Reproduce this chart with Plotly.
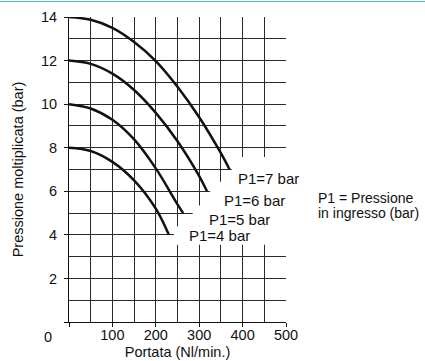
import plotly.graph_objects as go

# Flow rate (Nl/min) vs. multiplied pressure (bar) for each inlet pressure P1
flow_p7 = [0, 50, 100, 150, 200, 250, 300, 350, 370]
pres_p7 = [14, 13.87, 13.5, 12.85, 11.98, 10.8, 9.4, 7.75, 7.0]

flow_p6 = [0, 50, 100, 150, 200, 250, 300, 318]
pres_p6 = [12, 11.85, 11.4, 10.65, 9.6, 8.3, 6.7, 6.0]

flow_p5 = [0, 50, 100, 150, 200, 250, 263]
pres_p5 = [10, 9.8, 9.28, 8.38, 7.05, 5.4, 5.0]

flow_p4 = [0, 50, 100, 150, 200, 230]
pres_p4 = [8, 7.85, 7.35, 6.5, 5.2, 4.0]

curve_labels = ["P1=7 bar", "P1=6 bar", "P1=5 bar", "P1=4 bar"]

x_ticks = [0, 100, 200, 300, 400, 500]
x_ticktext = ["", "100", "200", "300", "400", "500"]
y_ticks = [0, 2, 4, 6, 8, 10, 12, 14]
y_ticktext = ["", "2", "4", "6", "8", "10", "12", "14"]

W, H = 425, 361
ML, MR, MT, MB = 69, 139, 17, 39
PW, PH = W - ML - MR, H - MT - MB

FONT = "Liberation Sans, Arial, Helvetica, sans-serif"
INK = "#111111"
GRID = "#2a2a2a"


def px_x(px):
    """Horizontal pixel position -> paper coordinate."""
    return (px - ML) / PW


def px_y(py):
    """Vertical pixel position (from top) -> paper coordinate."""
    return (H - MB - py) / PH


fig = go.Figure()
series = [(flow_p7, pres_p7), (flow_p6, pres_p6), (flow_p5, pres_p5), (flow_p4, pres_p4)]
for (fx, py), name in zip(series, curve_labels):
    fig.add_trace(go.Scatter(
        x=fx, y=py, mode="lines", name=name,
        line=dict(color=INK, width=2.5, shape="spline", smoothing=1.0),
        hoverinfo="x+y+name", showlegend=False,
    ))

# White boxes behind the curve labels (they hide the grid there)
label_boxes = [
    (375, 7.57, 6.0),
    (325, 6.44, 5.2),
    (285, 5.35, 4.4),
    (242, 4.4, 3.55),
]
for x0, ytop, ybot in label_boxes:
    fig.add_shape(type="rect", xref="x", yref="y", x0=x0, x1=520, y0=ybot, y1=ytop,
                  fillcolor="white", line=dict(width=0), layer="above")

# Curve labels
label_pos = [(384, 6.6), (352, 5.6), (317, 4.71), (271, 3.95)]
for (lx, ly), txt in zip(label_pos, curve_labels):
    fig.add_annotation(x=lx, y=ly, xref="x", yref="y", text=txt, showarrow=False,
                       xanchor="left", yanchor="middle",
                       font=dict(family=FONT, size=15, color=INK))

# Shared origin label
fig.add_annotation(x=px_x(48), y=px_y(336.5), xref="paper", yref="paper", text="0",
                   showarrow=False, xanchor="center", yanchor="middle",
                   font=dict(family=FONT, size=14.5, color=INK))

# Side note
fig.add_annotation(x=px_x(316), y=px_y(197.5), xref="paper", yref="paper",
                   text="P1 = Pressione", showarrow=False, xanchor="left", yanchor="middle",
                   font=dict(family=FONT, size=14, color=INK))
fig.add_annotation(x=px_x(316), y=px_y(212.5), xref="paper", yref="paper",
                   text="in ingresso (bar)", showarrow=False, xanchor="left", yanchor="middle",
                   font=dict(family=FONT, size=14, color=INK))

# Thin blue rule along the top edge (a flat, empty annotation box)
fig.add_annotation(x=px_x(-2), y=px_y(0.5), xref="paper", yref="paper",
                   text=" ", showarrow=False, xanchor="left", yanchor="top",
                   width=W + 4, height=1, borderpad=0, borderwidth=0,
                   bgcolor="#52b6da", font=dict(size=1, color="#52b6da"))

fig.update_xaxes(
    range=[0, 500], tickvals=x_ticks, ticktext=x_ticktext, automargin=False,
    ticks="outside", ticklen=4, tickwidth=1, tickcolor=INK,
    showgrid=True, gridcolor=GRID, gridwidth=1,
    minor=dict(dtick=50, showgrid=True, gridcolor=GRID, gridwidth=1, ticks=""),
    showline=True, linecolor=INK, linewidth=1, zeroline=False,
    tickfont=dict(family=FONT, size=14.5, color=INK), ticklabelstandoff=-4,
    title=dict(text="Portata (Nl/min.)", font=dict(family=FONT, size=14.5, color=INK), standoff=4),
)
fig.update_yaxes(
    range=[0, 14], tickvals=y_ticks, ticktext=y_ticktext, automargin=False,
    ticks="outside", ticklen=4, tickwidth=1, tickcolor=INK,
    showgrid=True, gridcolor=GRID, gridwidth=1,
    minor=dict(dtick=1, showgrid=True, gridcolor=GRID, gridwidth=1, ticks=""),
    showline=True, linecolor=INK, linewidth=1, zeroline=False,
    tickfont=dict(family=FONT, size=14.5, color=INK), ticklabelstandoff=4,
    title=dict(text="Pressione moltiplicata (bar)", font=dict(family=FONT, size=14.5, color=INK), standoff=13),
)
fig.update_layout(
    width=W, height=H, margin=dict(l=ML, r=MR, t=MT, b=MB, autoexpand=False),
    paper_bgcolor="white", plot_bgcolor="white", showlegend=False,
)

fig.write_html("out.html", config={"displayModeBar": False})
